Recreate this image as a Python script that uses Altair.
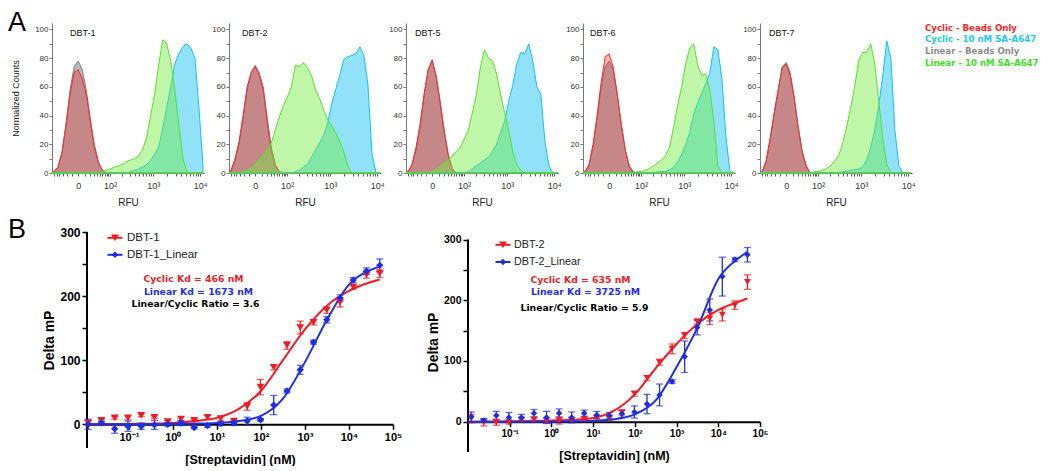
import json
import altair as alt
import pandas as pd

FONT = "Liberation Sans"
VFONT = "DejaVu Sans"

# ------------------------------------------------------------------ panel A data
RFU_GRID = [-69, -60, -45, -32, -21.5, -12.9, -5.8, 0, 5.8, 12.9, 21.5, 32, 45, 60, 79, 102,
            129, 163, 204, 254, 314, 388, 477, 586, 718, 878, 1072, 1310, 1600, 1950, 2380,
            2890, 3520, 4290, 5210, 6340, 7730, 9400, 11400]

PANEL_NAMES = ["DBT-1", "DBT-2", "DBT-5", "DBT-6", "DBT-7"]
SERIES_NAMES = ["Cyclic - Beads Only", "Cyclic - 10 nM SA-A647",
                "Linear - Beads Only", "Linear - 10 nM SA-A647"]
PANEL_LETTERS = ["A", "B"]

DBT1_CYC_BEADS = [0, 1, 4, 14, 33, 55, 70, 72, 66, 55, 36, 18, 7,
                  2, 0, 0, 0, 0, 0, 0, 0, 0, 0, 0, 0, 0,
                  0, 0, 0, 0, 0, 0, 0, 0, 0, 0, 0, 0, 0]
DBT1_LIN_BEADS = [0, 1, 4, 15, 35, 58, 74, 78, 72, 58, 38, 20, 8,
                  2, 0, 0, 0, 0, 0, 0, 0, 0, 0, 0, 0, 0,
                  0, 0, 0, 0, 0, 0, 0, 0, 0, 0, 0, 0, 0]
DBT1_CYC_SA = [0, 0, 0, 0, 0, 0, 0, 0, 0, 0, 0, 0, 0,
               0, 0, 0, 0, 0, 0, 0, 1, 2, 3, 4, 6, 9,
               13, 18, 31, 46, 60, 76, 83, 88, 90, 87, 80, 45, 6]
DBT1_LIN_SA = [0, 0, 0, 0, 0, 0, 0, 0, 0, 0, 0, 0, 0,
               1, 2, 3, 4, 5, 6, 8, 9, 10, 12, 16, 25, 40,
               55, 75, 93, 90, 78, 58, 34, 10, 1, 0, 0, 0, 0]

DBT2_CYC_BEADS = [0, 2, 10, 22, 40, 60, 70, 74, 68, 58, 35, 15, 5,
                  1, 0, 0, 0, 0, 0, 0, 0, 0, 0, 0, 0, 0,
                  0, 0, 0, 0, 0, 0, 0, 0, 0, 0, 0, 0, 0]
DBT2_LIN_BEADS = [0, 1, 8, 20, 38, 58, 70, 75, 70, 60, 38, 18, 6,
                  1, 0, 0, 0, 0, 0, 0, 0, 0, 0, 0, 0, 0,
                  0, 0, 0, 0, 0, 0, 0, 0, 0, 0, 0, 0, 0]
DBT2_CYC_SA = [0, 0, 0, 0, 0, 0, 0, 0, 0, 0, 0, 0, 0,
               0, 0, 0, 0, 1, 2, 4, 6, 11, 16, 21, 26, 35,
               48, 58, 68, 79, 81, 82, 83, 88, 82, 62, 14, 0, 0]
DBT2_LIN_SA = [0, 0, 0, 0, 1, 2, 4, 6, 10, 13, 16, 21, 30,
               39, 47, 53, 60, 75, 74, 77, 73, 68, 58, 52, 44, 37,
               33, 28, 22, 15, 5, 0, 0, 0, 0, 0, 0, 0, 0]

DBT5_CYC_BEADS = [0, 1, 6, 18, 34, 55, 72, 79, 67, 48, 28, 12, 2,
                  0, 0, 0, 0, 0, 0, 0, 0, 0, 0, 0, 0, 0,
                  0, 0, 0, 0, 0, 0, 0, 0, 0, 0, 0, 0, 0]
DBT5_LIN_BEADS = [0, 1, 5, 16, 32, 54, 72, 78, 68, 50, 30, 13, 3,
                  0, 0, 0, 0, 0, 0, 0, 0, 0, 0, 0, 0, 0,
                  0, 0, 0, 0, 0, 0, 0, 0, 0, 0, 0, 0, 0]
DBT5_CYC_SA = [0, 0, 0, 0, 0, 0, 0, 0, 0, 0, 0, 0, 0,
               0, 0, 0, 1, 3, 5, 7, 9, 11, 15, 20, 28, 36,
               50, 61, 76, 84, 83, 90, 78, 60, 55, 22, 5, 0, 0]
DBT5_LIN_SA = [0, 0, 0, 0, 0, 0, 0, 1, 3, 5, 7, 9, 12,
               15, 18, 24, 30, 42, 55, 74, 86, 80, 78, 69, 55, 42,
               30, 15, 6, 2, 0, 0, 0, 0, 0, 0, 0, 0, 0]

DBT6_CYC_BEADS = [0, 1, 6, 20, 40, 63, 81, 83, 74, 55, 34, 16, 4,
                  0, 0, 0, 0, 0, 0, 0, 0, 0, 0, 0, 0, 0,
                  0, 0, 0, 0, 0, 0, 0, 0, 0, 0, 0, 0, 0]
DBT6_LIN_BEADS = [0, 1, 5, 18, 38, 60, 74, 78, 72, 55, 34, 16, 5,
                  1, 0, 0, 0, 0, 0, 0, 0, 0, 0, 0, 0, 0,
                  0, 0, 0, 0, 0, 0, 0, 0, 0, 0, 0, 0, 0]
DBT6_CYC_SA = [0, 0, 0, 0, 0, 0, 0, 0, 0, 0, 0, 0, 0,
               0, 0, 0, 0, 0, 0, 1, 1, 1, 2, 4, 8, 13,
               20, 28, 41, 49, 56, 62, 70, 88, 86, 66, 25, 1, 0]
DBT6_LIN_SA = [0, 0, 0, 0, 0, 0, 0, 0, 0, 0, 0, 0, 0,
               0, 1, 1, 2, 3, 5, 7, 9, 12, 18, 32, 47, 60,
               76, 87, 90, 75, 68, 69, 58, 36, 5, 0, 0, 0, 0]

DBT7_CYC_BEADS = [0, 1, 8, 24, 42, 58, 73, 76, 68, 52, 31, 14, 4,
                  0, 0, 0, 0, 0, 0, 0, 0, 0, 0, 0, 0, 0,
                  0, 0, 0, 0, 0, 0, 0, 0, 0, 0, 0, 0, 0]
DBT7_LIN_BEADS = [0, 1, 7, 22, 40, 57, 74, 77, 70, 53, 32, 15, 5,
                  0, 0, 0, 0, 0, 0, 0, 0, 0, 0, 0, 0, 0,
                  0, 0, 0, 0, 0, 0, 0, 0, 0, 0, 0, 0, 0]
DBT7_CYC_SA = [0, 0, 0, 0, 0, 0, 0, 0, 0, 0, 0, 0, 0,
               0, 0, 0, 0, 0, 0, 0, 0, 1, 1, 2, 2, 3,
               4, 9, 18, 30, 47, 68, 92, 80, 30, 5, 0, 0, 0]
DBT7_LIN_SA = [0, 0, 0, 0, 0, 0, 0, 0, 0, 0, 0, 0, 0,
               0, 1, 1, 2, 3, 5, 8, 12, 20, 32, 45, 60, 78,
               84, 84, 90, 76, 50, 24, 6, 0, 0, 0, 0, 0, 0]

HIST = {
    "DBT-1": [DBT1_CYC_BEADS, DBT1_CYC_SA, DBT1_LIN_BEADS, DBT1_LIN_SA],
    "DBT-2": [DBT2_CYC_BEADS, DBT2_CYC_SA, DBT2_LIN_BEADS, DBT2_LIN_SA],
    "DBT-5": [DBT5_CYC_BEADS, DBT5_CYC_SA, DBT5_LIN_BEADS, DBT5_LIN_SA],
    "DBT-6": [DBT6_CYC_BEADS, DBT6_CYC_SA, DBT6_LIN_BEADS, DBT6_LIN_SA],
    "DBT-7": [DBT7_CYC_BEADS, DBT7_CYC_SA, DBT7_LIN_BEADS, DBT7_LIN_SA],
}

X_TICKS_A = [-60, -50, -40, -30, -20, -10, 0, 10, 20, 30, 40, 50, 60, 70, 80, 90,
             100, 200, 300, 400, 500, 600, 700, 800, 900,
             1000, 2000, 3000, 4000, 5000, 6000, 7000, 8000, 9000, 10000]
X_MAJOR_A = [0, 100, 1000, 10000]
X_MAJOR_LABELS_A = ["0", "10²", "10³", "10⁴"]
Y_TICKS_A = [0, 10, 20, 30, 40, 50, 60, 70, 80, 90, 100]

# ------------------------------------------------------------------ panel B data
CONC = [50000, 25000, 12500, 6250, 3125, 1562.5, 781.3, 390.6, 195.3, 97.66, 48.83, 24.41,
        12.21, 6.104, 3.052, 1.526, 0.7629, 0.3815, 0.1907, 0.09537, 0.04768, 0.02384, 0.01192]

DBT1_CYC_MP = [235, 233, 214, 190, 178, 159, 151, 123, 89, 58, 28, 5, 9, 11, 6, 8, 4, 11, 14, 10, 10, 6, 2]
DBT1_CYC_SEM = [6, 5, 3, 7, 5, 4, 10, 6, 4, 12, 6, 2, 3, 3, 2, 3, 2, 2, 2, 3, 2, 2, 4]
DBT1_LIN_MP = [248, 239, 225, 197, 163, 128, 85, 52, 30, 7, 5, 2, 1, -2, -5, 2, 0, -1, -3, -3, -7, 2, 0]
DBT1_LIN_SEM = [10, 5, 4, 5, 5, 3, 7, 3, 15, 2, 6, 3, 3, 3, 2, 4, 3, 7, 5, 8, 7, 3, 8]

DBT2_CYC_MP = [230, 192, 176, 170, 165, 142, 120, 98, 72, 46, 15, 6, 6, 4, 3, 2, 2, 3, 3, -1, -1, -1, 5]
DBT2_CYC_SEM = [12, 7, 10, 10, 4, 5, 8, 5, 4, 4, 4, 3, 4, 4, 3, 6, 4, 3, 3, 3, 5, 6, 7]
DBT2_LIN_MP = [275, 267, 239, 184, 155, 107, 66, 44, 29, 16, 13, 10, 11, 14, 7, 14, 7, 14, 7, 7, 10, 2, 8]
DBT2_LIN_SEM = [12, 3, 32, 18, 12, 26, 3, 18, 16, 10, 6, 5, 6, 5, 9, 7, 10, 6, 5, 8, 7, 3, 8]

CURVE_CONC = [0.0115, 0.0316, 0.1, 0.316, 1, 3.16, 10, 31.6, 100, 316, 1000, 3160, 10000, 31600, 50000]
DBT1_CYC_FIT = [0, 0, 0.5, 1, 2, 5, 10, 24, 52, 100, 148, 185, 208, 222, 226]
DBT1_LIN_FIT = [0, 0, 0, 0, 0.5, 1, 2, 5, 13, 40, 97, 163, 218, 241, 246]
DBT2_CYC_FIT = [0, 0, 0.5, 1, 2, 3, 6, 18, 45, 88, 128, 161, 184, 198, 203]
DBT2_LIN_FIT = [0, 0, 0, 0, 0, 0.5, 1.5, 4, 12, 35, 90, 155, 235, 270, 280]

B_SERIES = [["DBT-1", "DBT-1_Linear"], ["DBT-2", "DBT-2_Linear"]]
CYC_KD = [466, 635]
LIN_KD = [1673, 3725]
KD_RATIO = [3.6, 5.9]

B_X_TICKS = [0.1, 1, 10, 100, 1000, 10000, 100000]
B_X_LABELS = ["10⁻¹", "10⁰", "10¹", "10²", "10³", "10⁴", "10⁵"]
B_Y_TICKS = [0, 50, 100, 150, 200, 250, 300]

# ------------------------------------------------------------------ styles
RED = "#ee1c25"
BLUE = "#1f2fe0"
HIST_DRAW = [2, 0, 1, 3]          # gray, red, cyan, green
HIST_FILL = ["#dc2a2a", "#24c6f4", "#8a8a8a", "#72ea3e"]
HIST_FOP = [0.35, 0.5, 0.6, 0.45]
HIST_STROKE = ["#ff2a2a", "#12c2f2", "#7a7a7a", "#5ae02a"]
LEGEND_TXT = ["#ff1e1e", "#1ec8f0", "#8c8c8c", "#3ee01e"]
NAME_X = [18, 13, 9, 7, 9]

label_expr_a = ("indexof(" + json.dumps(X_MAJOR_A) + ", datum.value) >= 0 ? "
                + json.dumps(X_MAJOR_LABELS_A, ensure_ascii=False)
                + "[indexof(" + json.dumps(X_MAJOR_A) + ", datum.value)] : ''")
label_expr_b = (json.dumps(B_X_LABELS, ensure_ascii=False)
                + "[indexof(" + json.dumps(B_X_TICKS) + ", datum.value)]")

ONE = pd.DataFrame({"a": [0]})


def spacer(w, h):
    return alt.Chart(ONE).mark_rule(opacity=0).encode(
        x=alt.value(0), y=alt.value(0), y2=alt.value(1)).properties(
        width=w, height=h, view=alt.ViewBackground(strokeOpacity=0))


def hist_panel(i):
    name = PANEL_NAMES[i]
    first = i == 0
    last = i == len(PANEL_NAMES) - 1
    x_enc = alt.X("rfu:Q",
                  scale=alt.Scale(type="symlog", constant=27, domain=[-69, 12000], nice=False, zero=False),
                  axis=alt.Axis(values=X_TICKS_A, labelExpr=label_expr_a, title="RFU",
                                labelFont=FONT, labelFontSize=9, labelColor="#333",
                                labelOverlap=False, labelFlush=False, labelBound=False, labelPadding=5,
                                tickSize=3, tickColor="#333", tickWidth=0.8, domainColor="#555",
                                titleFont=FONT, titleFontSize=10, titleFontWeight="normal",
                                titleColor="#222", titlePadding=7, grid=False))
    yax = dict(values=Y_TICKS_A, labelExpr="datum.value % 20 === 0 ? datum.label : ''",
               labelFont=FONT, labelFontSize=8, labelColor="#333", labelPadding=1,
               tickSize=3, tickColor="#555", tickWidth=0.8, domainColor="#777", grid=False)
    if first:
        yax.update(title="Normalized Counts", titleFont=FONT, titleFontSize=9,
                   titleFontWeight="normal", titleColor="#222", titlePadding=14)
    y_enc = alt.Y("count:Q", scale=alt.Scale(domain=[0, 104.5], nice=False, zero=False),
                  axis=alt.Axis(**yax), title="Normalized Counts" if first else None)
    layers = []
    for s in HIST_DRAW:
        df = pd.DataFrame({"rfu": RFU_GRID, "count": HIST[name][s]})
        layers.append(alt.Chart(df).mark_area(
            interpolate="linear", fill=HIST_FILL[s], fillOpacity=HIST_FOP[s],
            stroke=HIST_STROKE[s], strokeWidth=1).encode(x=x_enc, y=y_enc))
    layers.append(alt.Chart(pd.DataFrame({"panel": [name]})).mark_text(
        align="left", baseline="middle", font=FONT, fontSize=9, color="#111").encode(
        x=alt.value(NAME_X[i]), y=alt.value(10), text="panel:N"))
    if first:
        layers.append(alt.Chart(pd.DataFrame({"letter": [PANEL_LETTERS[0]]})).mark_text(
            align="left", baseline="alphabetic", font=FONT, fontSize=27,
            color="black").encode(x=alt.value(-44), y=alt.value(7.5), text="letter:N"))
        # layout anchors (invisible)
        layers.append(alt.Chart(ONE).mark_rule(opacity=0).encode(
            x=alt.value(20), x2=alt.value(40), y=alt.value(-14.5)))
        layers.append(alt.Chart(ONE).mark_rule(opacity=0).encode(
            x=alt.value(20), x2=alt.value(40), y=alt.value(187)))
    if last:
        for k, s in enumerate(SERIES_NAMES):
            layers.append(alt.Chart(pd.DataFrame({"series": [s]})).mark_text(
                align="left", baseline="middle", font=VFONT, fontSize=8.6, fontWeight="bold",
                color=LEGEND_TXT[k]).encode(
                x=alt.value(165), y=alt.value(4.5 + 11.7 * k), text="series:N"))
    return alt.layer(*layers).properties(
        width=152, height=150, view=alt.ViewBackground(stroke="#8c8c8c", strokeWidth=1))


B_LAYOUT = [
    dict(width=306, height=216, xdom=[0.0112, 100000], ydom=[-37, 300], axis_lo=-37, xoff=-23.7,
         tick_fs=12, xlab_fs=11, leg_fs=11.5, leg_mx=28, leg_tx=40, leg_y=[5.8, 22.8],
         ann=[(106.5, 47.3), (111.5, 60.0), (108.5, 72.3)], ann_fs=9.3),
    dict(width=292, height=220, xdom=[0.01, 100000], ydom=[-50, 312.5], axis_lo=-50, xoff=-30.3,
         tick_fs=10.5, xlab_fs=10, leg_fs=10.8, leg_mx=35, leg_tx=46, leg_y=[12.8, 30.0],
         ann=[(112.5, 48.3), (117.5, 60.0), (116.5, 75.6)], ann_fs=9.3),
]
CYC_MP = [DBT1_CYC_MP, DBT2_CYC_MP]
CYC_SEM = [DBT1_CYC_SEM, DBT2_CYC_SEM]
LIN_MP = [DBT1_LIN_MP, DBT2_LIN_MP]
LIN_SEM = [DBT1_LIN_SEM, DBT2_LIN_SEM]
CYC_FIT = [DBT1_CYC_FIT, DBT2_CYC_FIT]
LIN_FIT = [DBT1_LIN_FIT, DBT2_LIN_FIT]


def dose_panel(j):
    p = B_LAYOUT[j]
    cyc, lin = B_SERIES[j]
    n = len(CONC)
    pts = pd.DataFrame({"conc": CONC + CONC, "value": CYC_MP[j] + LIN_MP[j],
                        "err": CYC_SEM[j] + LIN_SEM[j], "series": [cyc] * n + [lin] * n})
    m = len(CURVE_CONC)
    fit = pd.DataFrame({"conc": CURVE_CONC + CURVE_CONC, "value": CYC_FIT[j] + LIN_FIT[j],
                        "series": [cyc] * m + [lin] * m})
    color = alt.Color("series:N", scale=alt.Scale(domain=[cyc, lin], range=[RED, BLUE]), legend=None)
    xs = alt.Scale(type="log", domain=p["xdom"], nice=False)
    ys = alt.Scale(domain=p["ydom"], nice=False, zero=False)
    x_axis = alt.Axis(values=B_X_TICKS, labelExpr=label_expr_b, offset=p["xoff"],
                      domainColor="black", domainWidth=2, tickColor="black", tickWidth=1.5, tickSize=5,
                      labelFont=FONT, labelFontWeight="bold", labelFontSize=p["xlab_fs"], labelColor="black",
                      labelPadding=2, labelOverlap=False, labelFlush=False, labelBound=False,
                      title="[Streptavidin] (nM)", titleFont=FONT, titleFontSize=12.5,
                      titleFontWeight="bold", titleColor="black", titlePadding=11, grid=False)
    y_axis = alt.Axis(values=B_Y_TICKS, labelExpr="datum.value % 100 === 0 ? datum.label : ''",
                      domain=False, tickColor="black", tickWidth=1.5, tickSize=5,
                      labelFont=FONT, labelFontWeight="bold", labelFontSize=p["tick_fs"], labelColor="black",
                      labelPadding=2, title="Delta mP", titleFont=FONT, titleFontSize=14,
                      titleFontWeight="bold", titleColor="black", titlePadding=3, grid=False)
    X = alt.X("conc:Q", scale=xs, axis=x_axis, title="[Streptavidin] (nM)")
    Y = alt.Y("value:Q", scale=ys, axis=y_axis, title="Delta mP")
    Ylo = alt.Y("lo:Q", scale=ys, axis=y_axis, title="Delta mP")
    Yhi = alt.Y("hi:Q", scale=ys, axis=y_axis, title="Delta mP")

    base_pts = alt.Chart(pts).transform_calculate(lo="datum.value - datum.err",
                                                   hi="datum.value + datum.err")
    layers = [
        alt.Chart(pd.DataFrame({"lo": [p["axis_lo"]], "hi": [B_Y_TICKS[-1]]})).mark_rule(
            color="black", strokeWidth=2).encode(x=alt.value(0), y=Ylo, y2="hi:Q"),
        base_pts.mark_rule(strokeWidth=1.3).encode(x=X, y=Ylo, y2="hi:Q", color=color),
        base_pts.mark_tick(orient="horizontal", size=7, thickness=1.3).encode(x=X, y=Ylo, color=color),
        base_pts.mark_tick(orient="horizontal", size=7, thickness=1.3).encode(x=X, y=Yhi, color=color),
        alt.Chart(fit).mark_line(strokeWidth=2, interpolate="monotone").encode(x=X, y=Y, color=color),
        alt.Chart(pts).mark_point(filled=True, opacity=1).encode(
            x=X, y=Y, color=color,
            shape=alt.Shape("series:N", scale=alt.Scale(domain=[cyc, lin], range=["triangle-down", "diamond"]),
                            legend=None),
            size=alt.Size("series:N", scale=alt.Scale(domain=[cyc, lin], range=[60, 42]), legend=None)),
    ]
    for k, (nm, col, shp, sz) in enumerate([(cyc, RED, "triangle-down", 60), (lin, BLUE, "diamond", 42)]):
        yy = p["leg_y"][k]
        one = pd.DataFrame({"name": [nm]})
        layers.append(alt.Chart(one).mark_rule(color=col, strokeWidth=2).encode(
            x=alt.value(p["leg_mx"] - 7.5), x2=alt.value(p["leg_mx"] + 7.5), y=alt.value(yy)))
        layers.append(alt.Chart(one).mark_point(shape=shp, filled=True, opacity=1, size=sz, color=col).encode(
            x=alt.value(p["leg_mx"]), y=alt.value(yy)))
        layers.append(alt.Chart(one).mark_text(align="left", baseline="middle", font=FONT,
                                               fontSize=p["leg_fs"], color="#222").encode(
            x=alt.value(p["leg_tx"]), y=alt.value(yy), text="name:N"))
    ann_text = [f"Cyclic Kd = {CYC_KD[j]} nM", f"Linear Kd = {LIN_KD[j]} nM",
                f"Linear/Cyclic Ratio = {KD_RATIO[j]}"]
    ann_col = [RED, BLUE, "black"]
    for k in range(3):
        ax, ay = p["ann"][k]
        layers.append(alt.Chart(pd.DataFrame({"t": [ann_text[k]]})).mark_text(
            align="center", baseline="middle", font=VFONT, fontWeight="bold",
            fontSize=p["ann_fs"], color=ann_col[k]).encode(x=alt.value(ax), y=alt.value(ay), text="t:N"))
    if j == 0:
        layers.append(alt.Chart(pd.DataFrame({"letter": [PANEL_LETTERS[1]]})).mark_text(
            align="left", baseline="alphabetic", font=FONT, fontSize=27,
            color="black").encode(x=alt.value(-79), y=alt.value(6.3), text="letter:N"))
        layers.append(alt.Chart(ONE).mark_rule(opacity=0).encode(
            x=alt.value(0), x2=alt.value(10), y=alt.value(-18)))
    return alt.layer(*layers).properties(
        width=p["width"], height=p["height"], view=alt.ViewBackground(strokeOpacity=0))


top = alt.hconcat(spacer(16, 150), *[hist_panel(i) for i in range(len(PANEL_NAMES))],
                  spacing=25, bounds="flush")
bottom = alt.hconcat(spacer(1, 216), dose_panel(0), dose_panel(1), spacing=75, bounds="flush")

chart = alt.vconcat(top, bottom, spacing=4).properties(
    padding=0, background="white"
).configure_view(strokeOpacity=0).configure_axis(grid=False)

chart.save("out.html", embed_options={"renderer": "svg", "actions": False})
